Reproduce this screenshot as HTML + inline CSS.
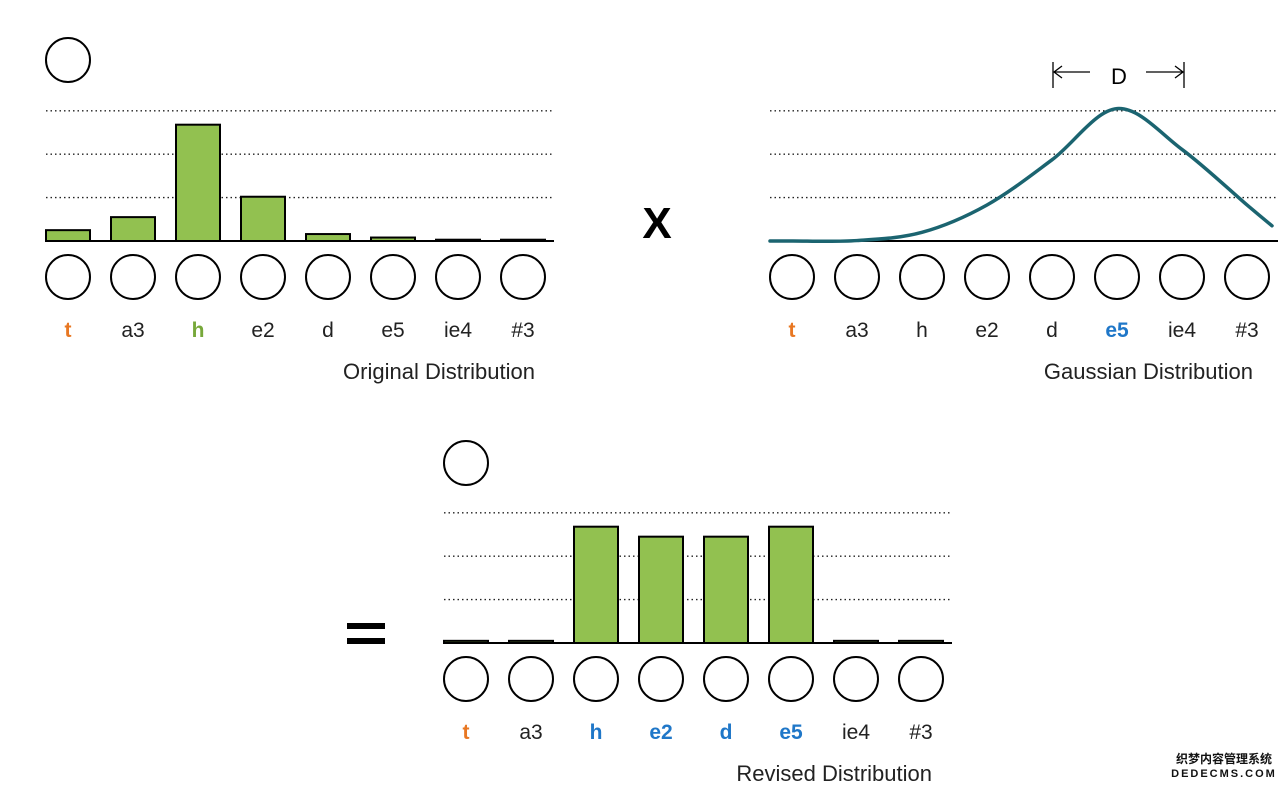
<!DOCTYPE html>
<html><head><meta charset="utf-8">
<style>
html,body{margin:0;padding:0;background:#fff;}
svg{display:block;font-family:"Liberation Sans",Arial,sans-serif;}
</style></head>
<body>
<svg id="s" width="1284" height="788" viewBox="0 0 1284 788" xmlns="http://www.w3.org/2000/svg">
<text x="657" y="238" font-size="44" font-weight="bold" text-anchor="middle">X</text>
<g><rect x="347" y="623" width="38" height="6" fill="#000"/><rect x="347" y="638" width="38" height="6" fill="#000"/></g>
<g stroke="#000" stroke-width="1.3" fill="none">
<line x1="1053" y1="62" x2="1053" y2="88"/><line x1="1184" y1="62" x2="1184" y2="88"/>
<line x1="1054" y1="72" x2="1090" y2="72"/><polyline points="1062,66 1054,72 1062,78"/>
<line x1="1146" y1="72" x2="1183" y2="72"/><polyline points="1175,66 1183,72 1175,78"/>
</g>
<text x="1119" y="84" font-size="22" text-anchor="middle">D</text>
<text x="1117" y="-10" font-size="1">.</text>
</svg>
<script>
const categories = ["t","a3","h","e2","d","e5","ie4","#3"];
const originalValues = [0.25,0.55,2.68,1.02,0.16,0.08,0.03,0.03];
const gaussianValues = [0,0.01,0.2,0.83,1.87,3.05,2.11,0.83];
const gaussianTailLeft = 0;
const gaussianTailRight = 0.35;
const revisedValues = [0.05,0.05,2.68,2.45,2.45,2.68,0.05,0.05];
const gridTicks = [1,2,3];
const originalColors = ["#e87722","#222","#77a83a","#222","#222","#222","#222","#222"];
const gaussianColors = ["#e87722","#222","#222","#222","#222","#1f77c8","#222","#222"];
const revisedColors = ["#e87722","#222","#1f77c8","#1f77c8","#1f77c8","#1f77c8","#222","#222"];
const originalBold = [1,0,1,0,0,0,0,0];
const gaussianBold = [1,0,0,0,0,1,0,0];
const revisedBold = [1,0,1,1,1,1,0,0];

const svg = document.getElementById('s');
const NS = 'http://www.w3.org/2000/svg';
function mk(tag, attrs, parent){const e=document.createElementNS(NS,tag);for(const k in attrs)e.setAttribute(k,attrs[k]);(parent||svg).appendChild(e);return e;}

function panel(cfg){
  const g = mk('g',{});
  
  
  const x = i => cfg.x0 + i*65;
  const y = v => cfg.base - v*43.4;
  gridTicks.forEach(t=>{
    const l = mk('line',{x1:cfg.left,x2:cfg.left+508,y1:y(t),y2:y(t),stroke:'#222','stroke-width':1.4,'stroke-dasharray':'1.5,3'},g);
    
    
  });
  if(cfg.topCircle){
    const c = mk('circle',{cx:x(0),cy:cfg.topCircle,r:22,fill:'none',stroke:'#000','stroke-width':2},g);
    
    
  }
  if(cfg.bars){
    cfg.bars.forEach((v,i)=>{
      const r = mk('rect',{x:x(i)-22,y:y(v),width:44,height:cfg.base-y(v),fill:'#92c150',stroke:'#000','stroke-width':2},g);
      
      
    });
  }
  const ax = mk('line',{x1:cfg.left,x2:cfg.left+508,y1:cfg.base,y2:cfg.base,stroke:'#000','stroke-width':2},g);
  
  
  if(cfg.curve){
    const pts = [[cfg.left, y(gaussianTailLeft)]];
    cfg.curve.forEach((v,i)=>pts.push([x(i), y(v)]));
    pts.push([cfg.left+502, y(gaussianTailRight)]);
    let d = 'M'+pts[0][0]+','+pts[0][1];
    for(let i=0;i<pts.length-1;i++){
      const p0=pts[Math.max(0,i-1)],p1=pts[i],p2=pts[i+1],p3=pts[Math.min(pts.length-1,i+2)];
      const c1=[p1[0]+(p2[0]-p0[0])/6,p1[1]+(p2[1]-p0[1])/6];
      const c2=[p2[0]-(p3[0]-p1[0])/6,p2[1]-(p3[1]-p1[1])/6];
      d+=' C'+c1+' '+c2+' '+p2;
    }
    const p = mk('path',{d:d,fill:'none',stroke:'#1b6470','stroke-width':3.5,'stroke-linecap':'round'},g);
    
    
  }
  categories.forEach((c,i)=>{
    const ci = mk('circle',{cx:x(i),cy:cfg.base+36,r:22,fill:'none',stroke:'#000','stroke-width':2},g);
    
    
    const t = mk('text',{x:x(i),y:cfg.base+96,'font-size':21,'text-anchor':'middle',fill:cfg.colors[i],'font-weight':cfg.bold[i]?'bold':'normal'},g);
    t.textContent = c;
    
    
  });
  const tt = mk('text',{x:cfg.titleX,y:cfg.base+138,'font-size':22,'text-anchor':'end',fill:'#222'},g);
  tt.textContent = cfg.title;
  
  
}
panel({name:'original-distribution-chart',left:46,x0:68,base:241,topCircle:60,bars:originalValues,colors:originalColors,bold:originalBold,title:'Original Distribution',titleX:535});
panel({name:'gaussian-distribution-chart',left:770,x0:792,base:241,curve:gaussianValues,colors:gaussianColors,bold:gaussianBold,title:'Gaussian Distribution',titleX:1253});
panel({name:'revised-distribution-chart',left:444,x0:466,base:643,topCircle:463,bars:revisedValues,colors:revisedColors,bold:revisedBold,title:'Revised Distribution',titleX:932});
const wm = mk('text',{x:1224,y:763,'font-size':12,'text-anchor':'middle','font-family':'"Liberation Sans","Noto Sans CJK SC",sans-serif',fill:'#111','font-weight':'bold'});
wm.textContent='织梦内容管理系统';


const wm2 = mk('text',{x:1224,y:777,'font-size':11,'text-anchor':'middle','letter-spacing':'2',fill:'#111','font-weight':'bold'});
wm2.textContent='DEDECMS.COM';


</script>
</body></html>
